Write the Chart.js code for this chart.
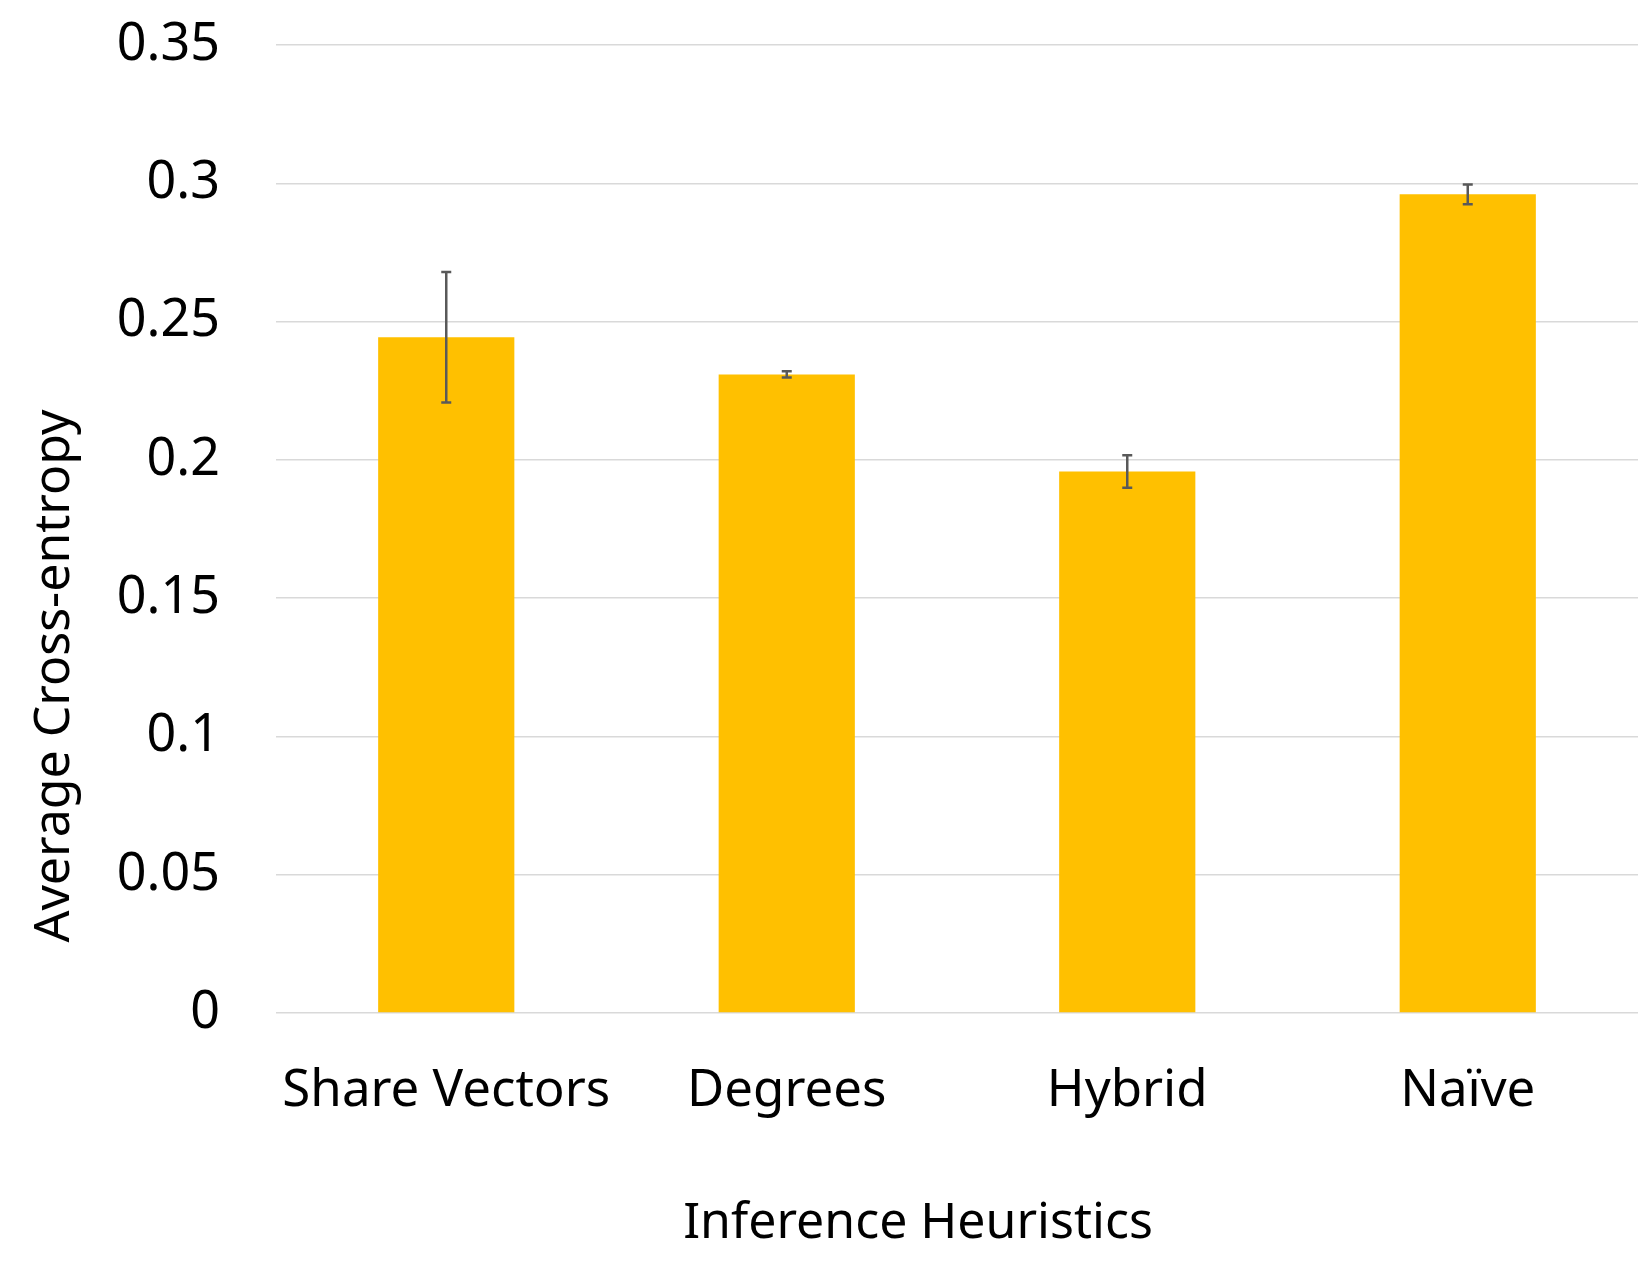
<!DOCTYPE html>
<html>
<head>
<meta charset="utf-8">
<script src="https://cdn.jsdelivr.net/npm/chart.js@4"></script>
<style>
  html, body { margin: 0; padding: 0; background: #fff; }
  #wrap { width: 1650px; height: 1275px; }
</style>
</head>
<body>
<div id="wrap"><canvas id="heuristics-bar-chart" width="1650" height="1275"></canvas></div>
<script>
const categories = ['Share Vectors', 'Degrees', 'Hybrid', 'Naïve'];
const crossEntropy = [0.2443, 0.2309, 0.1958, 0.2960];
const errorMargins = [0.0236, 0.0011, 0.0059, 0.0036];
const yTickLabels = ['0', '0.05', '0.1', '0.15', '0.2', '0.25', '0.3', '0.35'];
const xAxisTitle = 'Inference Heuristics';
const yAxisTitle = 'Average Cross-entropy';

const FONT = "'Noto Sans', 'Open Sans', sans-serif";

// draws the error bars from the data arrays using the chart scales
const errorBarPlugin = {
  id: 'errorBars',
  afterDatasetsDraw(chart) {
    const ctx = chart.ctx;
    const meta = chart.getDatasetMeta(0);
    const y = chart.scales.y;
    ctx.save();
    ctx.strokeStyle = '#595959';
    ctx.lineWidth = 2.5;
    meta.data.forEach((bar, i) => {
      const top = y.getPixelForValue(crossEntropy[i] + errorMargins[i]);
      const bottom = y.getPixelForValue(crossEntropy[i] - errorMargins[i]);
      ctx.beginPath();
      ctx.moveTo(bar.x, top);
      ctx.lineTo(bar.x, bottom);
      ctx.moveTo(bar.x - 5, top);
      ctx.lineTo(bar.x + 5, top);
      ctx.moveTo(bar.x - 5, bottom);
      ctx.lineTo(bar.x + 5, bottom);
      ctx.stroke();
    });
    ctx.restore();
  }
};

// axis titles sit a bit off-centre in the original, so place them by hand
const axisTitlePlugin = {
  id: 'axisTitles',
  afterDraw(chart) {
    const ctx = chart.ctx;
    const area = chart.chartArea;
    ctx.save();
    ctx.fillStyle = '#000';
    ctx.font = '50px ' + FONT;
    ctx.textAlign = 'center';
    ctx.textBaseline = 'middle';
    ctx.fillText(xAxisTitle, area.left + 642, 1224);
    ctx.translate(55, 676);
    ctx.rotate(-Math.PI / 2);
    ctx.fillText(yAxisTitle, 0, 0);
    ctx.restore();
  }
};

const ctx = document.getElementById('heuristics-bar-chart').getContext('2d');
const chart = new Chart(ctx, {
  type: 'bar',
  data: {
    labels: categories,
    datasets: [{
      data: crossEntropy,
      backgroundColor: '#ffc000',
      categoryPercentage: 1,
      barPercentage: 0.4
    }]
  },
  options: {
    responsive: false,
    animation: false,
    layout: { padding: { top: 45, right: 12, left: 0, bottom: 0 } },
    plugins: { legend: { display: false }, tooltip: { enabled: false } },
    scales: {
      x: {
        grid: { display: false },
        border: { display: false },
        ticks: { color: '#000', font: { family: FONT, size: 51 }, padding: 40 },
        afterFit(scale) { scale.height = 262; }
      },
      y: {
        min: 0,
        max: 0.35,
        ticks: {
          stepSize: 0.05,
          color: '#000',
          font: { family: FONT, size: 52 },
          padding: 56,
          callback: (value, index) => yTickLabels[index]
        },
        grid: { color: '#d9d9d9', lineWidth: 1.5, drawTicks: false },
        border: { display: false },
        afterFit(scale) {
          scale.width = 276;
          scale.paddingTop = 0;
          scale.paddingBottom = 0;
        }
      }
    }
  },
  plugins: [errorBarPlugin, axisTitlePlugin]
});
</script>
</body>
</html>
